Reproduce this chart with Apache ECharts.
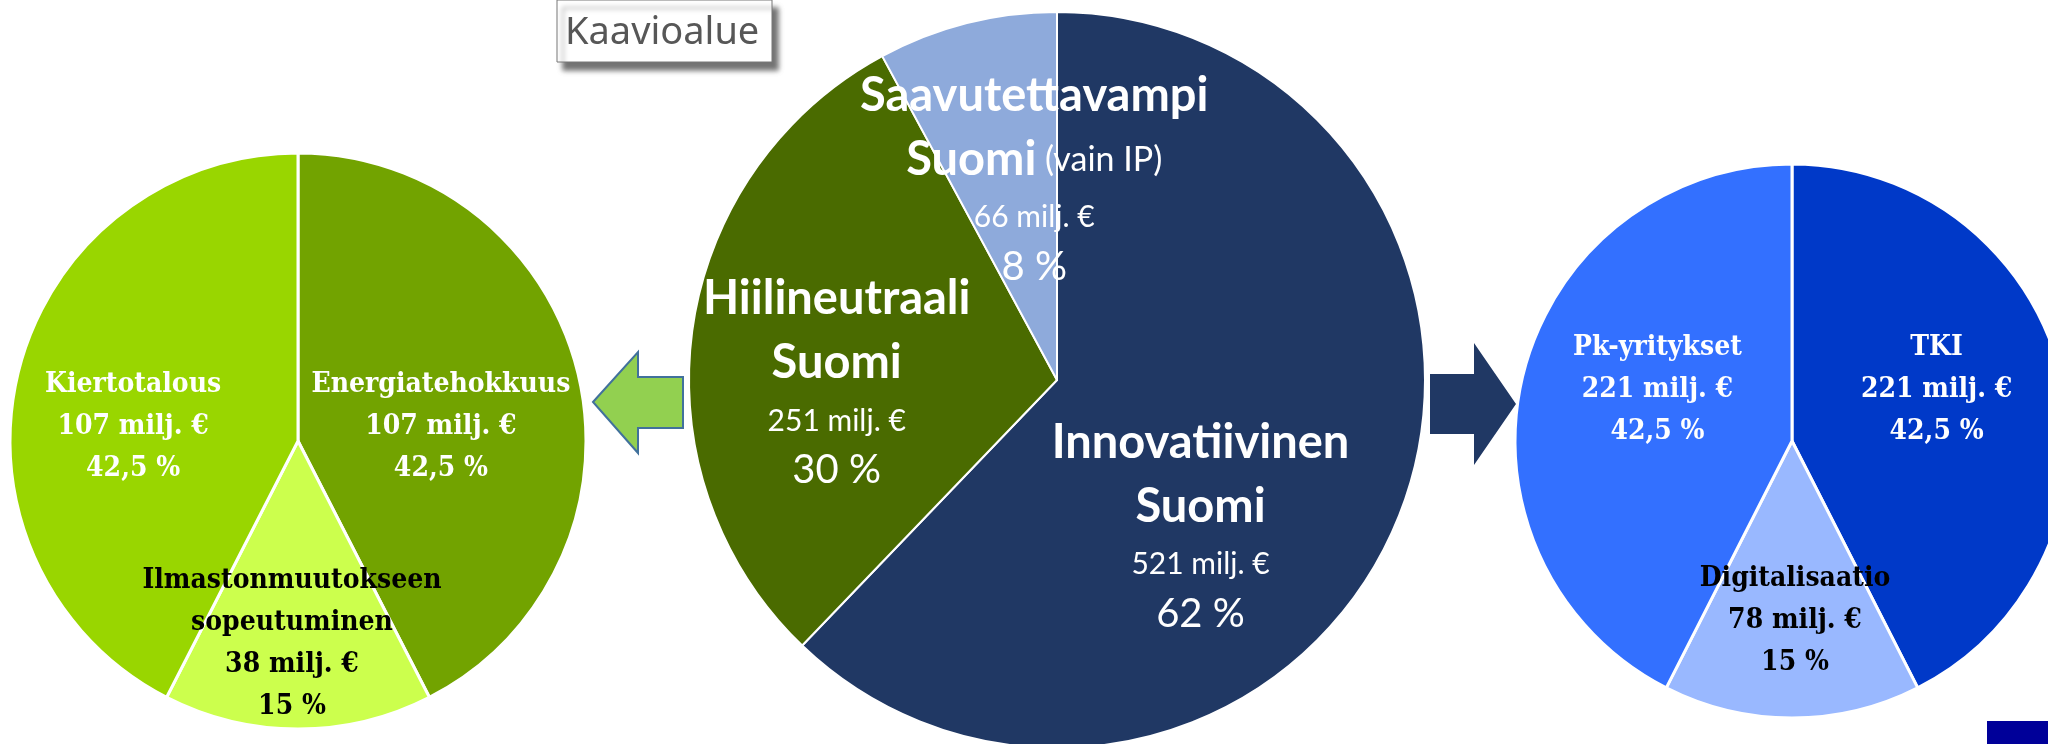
<!DOCTYPE html>
<html>
<head>
<meta charset="utf-8">
<title>Kaavioalue</title>
<script src="https://cdn.jsdelivr.net/npm/echarts@6/dist/echarts.min.js"></script>
<style>
  html, body { margin: 0; padding: 0; background: #ffffff; }
  #chart { width: 2048px; height: 744px; }
</style>
</head>
<body>
<div id="chart"></div>
<script>
// vasen ympyrä (Hiilineutraali Suomi jaettuna)
const leftNames = ['Energiatehokkuus', 'Ilmastonmuutokseen\nsopeutuminen', 'Kiertotalous'];
const leftValues = [107, 38, 107];
const leftShares = ['42,5 %', '15 %', '42,5 %'];

// keskimmäinen ympyrä
const midNames = ['Innovatiivinen\nSuomi', 'Hiilineutraali\nSuomi', 'Saavutettavampi\nSuomi'];
const midNotes = ['', '', '(vain IP)'];
const midValues = [521, 251, 66];
const midShares = ['62 %', '30 %', '8 %'];

// oikea ympyrä (Innovatiivinen Suomi jaettuna)
const rightNames = ['TKI', 'Digitalisaatio', 'Pk-yritykset'];
const rightValues = [221, 78, 221];
const rightShares = ['42,5 %', '15 %', '42,5 %'];

const unit = ' milj. €';

const serif = "'DejaVu Serif Condensed', 'Liberation Serif', serif";
const sans = "Lato, 'Noto Sans', sans-serif";

function sideLabel(names, values, shares) {
  return function (p) {
    const i = p.dataIndex;
    const lines = names[i].split('\n').map(s => '{n|' + s + '}');
    lines.push('{n|' + values[i] + unit + '}');
    lines.push('{n|' + shares[i] + '}');
    return lines.join('\n');
  };
}

function midLabel(p) {
  const i = p.dataIndex;
  const parts = midNames[i].split('\n');
  const lines = parts.map((s, k) => {
    let l = '{t|' + s + '}';
    if (k === parts.length - 1 && midNotes[i]) l += '{s| ' + midNotes[i] + '}';
    return l;
  });
  lines.push('{v|' + midValues[i] + unit + '}');
  lines.push('{p|' + midShares[i] + '}');
  return lines.join('\n');
}

const sideRich = {
  n: { fontFamily: serif, fontWeight: 'bold', fontSize: 28, lineHeight: 42 }
};
const midRich = {
  t: { fontFamily: sans, fontWeight: 'bold', fontSize: 47, lineHeight: 64 },
  s: { fontFamily: sans, fontSize: 34, lineHeight: 64 },
  v: { fontFamily: sans, fontSize: 30, lineHeight: 52 },
  p: { fontFamily: sans, fontSize: 40, lineHeight: 46 }
};

function pieData(names, values, colors, labelColors) {
  return values.map((v, i) => ({
    name: names[i],
    value: v,
    itemStyle: { color: colors[i] },
    label: { color: labelColors[i] }
  }));
}

// siirrot oletuspaikasta (säteen puoliväli)
const leftNudge = [[0, 20], [-6, 56], [-22, 20]];
const midNudge = [[-30, 74], [-35, 25], [23, -22]];
const rightNudge = [[7, -18], [3, 38], [3, -18]];

function nudge(list) {
  return function (params) {
    const d = list[params.dataIndex];
    return { dx: d[0], dy: d[1] };
  };
}

const baseSeries = {
  type: 'pie',
  startAngle: 90,
  clockwise: true,
  avoidLabelOverlap: false,
  labelLine: { show: false },
  emphasis: { disabled: true },
  animation: false
};

const option = {
  backgroundColor: '#ffffff',
  animation: false,
  series: [
    Object.assign({}, baseSeries, {
      name: 'Hiilineutraali Suomi',
      center: [298, 441],
      radius: [0, 288],
      itemStyle: { borderColor: '#ffffff', borderWidth: 3 },
      label: { show: true, position: 'inside', formatter: sideLabel(leftNames, leftValues, leftShares), rich: sideRich },
      labelLayout: nudge(leftNudge),
      data: pieData(leftNames, leftValues, ['#72a300', '#ccff4d', '#99d600'], ['#ffffff', '#000000', '#ffffff'])
    }),
    Object.assign({}, baseSeries, {
      name: 'Elpymissuunnitelma',
      center: [1057, 380],
      radius: [0, 368],
      z: 3,
      itemStyle: { borderColor: '#ffffff', borderWidth: 2 },
      label: { show: true, position: 'inside', formatter: midLabel, rich: midRich },
      labelLayout: nudge(midNudge),
      data: pieData(midNames, midValues, ['#203864', '#4a6b00', '#8eaadb'], ['#ffffff', '#ffffff', '#ffffff'])
    }),
    Object.assign({}, baseSeries, {
      name: 'Innovatiivinen Suomi',
      center: [1792, 441],
      radius: [0, 277],
      itemStyle: { borderColor: '#ffffff', borderWidth: 3 },
      label: { show: true, position: 'inside', formatter: sideLabel(rightNames, rightValues, rightShares), rich: sideRich },
      labelLayout: nudge(rightNudge),
      data: pieData(rightNames, rightValues, ['#0039c8', '#99b8ff', '#3370ff'], ['#ffffff', '#000000', '#ffffff'])
    })
  ],
  graphic: [
    // vihreä nuoli vasemmalle
    {
      type: 'polygon',
      z: 10,
      shape: { points: [[593, 402], [638, 352], [638, 377], [683, 377], [683, 428], [638, 428], [638, 453]] },
      style: { fill: '#92d050', stroke: '#41719c', lineWidth: 2 }
    },
    // sininen nuoli oikealle
    {
      type: 'polygon',
      z: 10,
      shape: { points: [[1430, 374], [1474, 374], [1474, 343], [1516, 404], [1474, 465], [1474, 434], [1430, 434]] },
      style: { fill: '#203864' }
    },
    // työkaluvihje
    {
      type: 'group',
      z: 20,
      children: [
        {
          type: 'rect',
          shape: { x: 557, y: 0, width: 215, height: 62 },
          style: {
            fill: '#ffffff', stroke: '#767676', lineWidth: 1,
            shadowColor: 'rgba(0,0,0,0.55)', shadowBlur: 5, shadowOffsetX: 6, shadowOffsetY: 8
          }
        },
        {
          type: 'text',
          style: {
            x: 565, y: 33, text: 'Kaavioalue', fill: '#575757',
            font: "38px 'Noto Sans', 'Open Sans', sans-serif", verticalAlign: 'middle'
          }
        }
      ]
    },
    {
      type: 'rect',
      z: 20,
      shape: { x: 1987, y: 721, width: 61, height: 23 },
      style: { fill: '#000099' }
    }
  ]
};

const chart = echarts.init(document.getElementById('chart'), null, { renderer: 'canvas' });
chart.setOption(option);
</script>
</body>
</html>
